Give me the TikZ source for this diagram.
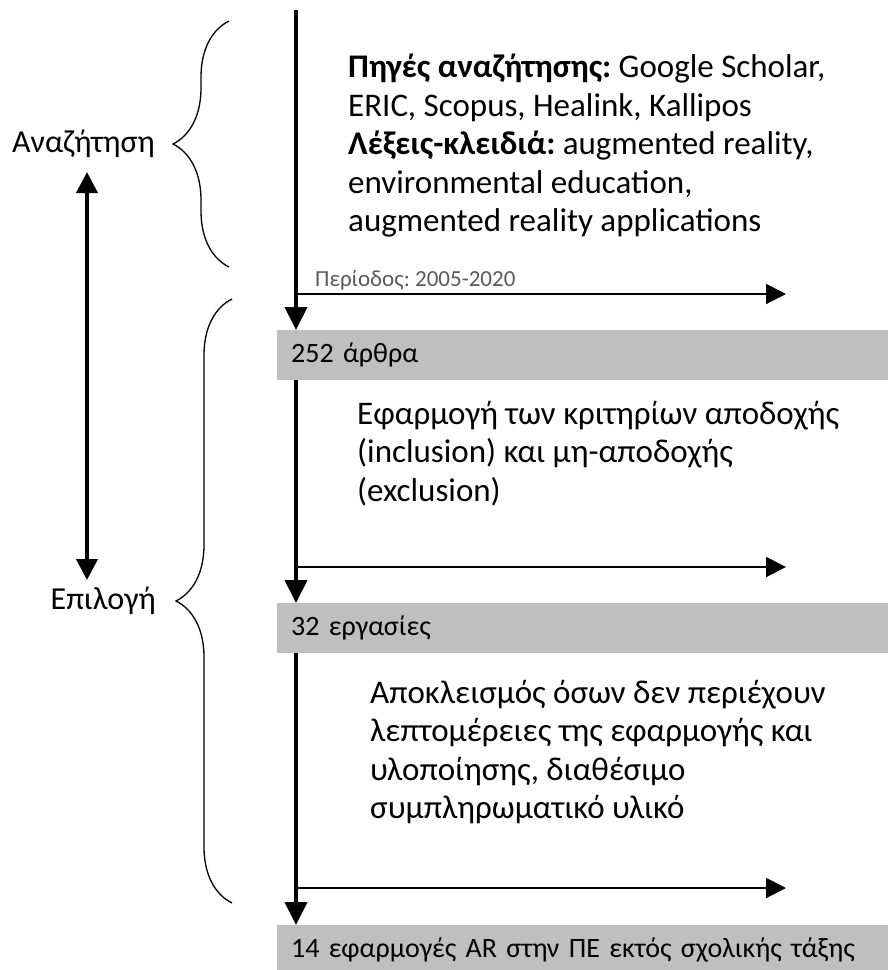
\documentclass[tikz,border=0pt]{standalone}
\usepackage{fontspec}
\setmainfont{Carlito}
\frenchspacing
\usepackage{xcolor}
\definecolor{boxgray}{HTML}{BFBFBF}
\definecolor{notegray}{HTML}{5A5A5A}
\usepackage{tikz}
\usetikzlibrary{arrows.meta,positioning,decorations.pathreplacing}

\begin{document}
\begin{tikzpicture}[
        x=1pt, y=-1pt,
        count/.style={rectangle, fill=boxgray, anchor=north west, minimum width=611pt, minimum height=50pt, inner xsep=14pt, text width=583pt, align=left, font=\fontsize{28}{32}\selectfont},
        note/.style={anchor=north west, inner sep=0pt, align=left, font=\fontsize{33}{38.5}\selectfont},
        period/.style={anchor=base west, inner sep=0pt, text=notegray, font=\fontsize{23}{27}\selectfont},
        phase/.style={inner sep=0pt, font=\fontsize{32}{38}\selectfont},
        flow/.style={-{Triangle[length=23pt, width=22pt]}, line width=4pt},
        branch/.style={-{Triangle[length=20pt, width=20pt]}, line width=2pt},
        both/.style={{Triangle[length=21pt, width=21pt]}-{Triangle[length=21pt, width=21pt]}, line width=4pt},
        bracket/.style={decorate, decoration={brace, amplitude=56pt}, line width=1.3pt}
    ]
        \useasboundingbox (0,0) rectangle (888,970);

        % Count boxes
        \coordinate (top) at (296,10);
        \node[count] (articles) at (277,330) {252 άρθρα};
        \node[count] (works) at (277,603) {32 εργασίες};
        \node[count] (apps) at (277,925) {14 εφαρμογές AR στην ΠΕ εκτός σχολικής τάξης};

        % Notes
        \node[note] (sources) at (348,54) {
            \textbf{Πηγές αναζήτησης:} Google Scholar,\\
            ERIC, Scopus, Healink, Kallipos\\
            \textbf{Λέξεις-κλειδιά:} augmented reality,\\
            environmental education,\\
            augmented reality applications
        };
        \node[period] (period) at (315,286) {Περίοδος: 2005-2020};
        \node[note] (criteria) at (357,401) {
            Εφαρμογή των κριτηρίων αποδοχής\\
            (inclusion) και μη-αποδοχής\\
            (exclusion)
        };
        \node[note] (exclude) at (370,680) {
            Αποκλεισμός όσων δεν περιέχουν\\
            λεπτομέρειες της εφαρμογής και\\
            υλοποίησης, διαθέσιμο\\
            συμπληρωματικό υλικό
        };

        % Main flow
        \draw[flow] (top) -- (top |- articles.north);
        \draw[flow] (articles.south -| top) -- (top |- works.north);
        \draw[flow] (works.south -| top) -- (top |- apps.north);

        % Side outputs
        \coordinate (out1) at (786,294);
        \coordinate (out2) at (786,567);
        \coordinate (out3) at (786,888);
        \draw[branch] (top |- out1) -- (out1);
        \draw[branch] (top |- out2) -- (out2);
        \draw[branch] (top |- out3) -- (out3);

        % Phases
        \coordinate (searchlow) at (229,267);
        \coordinate (searchhigh) at (229,21);
        \coordinate (selectlow) at (232,903);
        \coordinate (selecthigh) at (232,299);
        \draw[bracket] (searchlow) -- (searchhigh);
        \draw[bracket] (selectlow) -- (selecthigh);
        \coordinate (searchtip) at (173,144);
        \coordinate (selecttip) at (176,601);
        \node[phase, left=18pt of searchtip] (search) {Αναζήτηση};
        \node[phase, left=20pt of selecttip] (select) {Επιλογή};

        \coordinate (upper) at (87,172);
        \coordinate (lower) at (87,580);
        \draw[both] (upper) -- (lower);

    \end{tikzpicture}
\end{document}
